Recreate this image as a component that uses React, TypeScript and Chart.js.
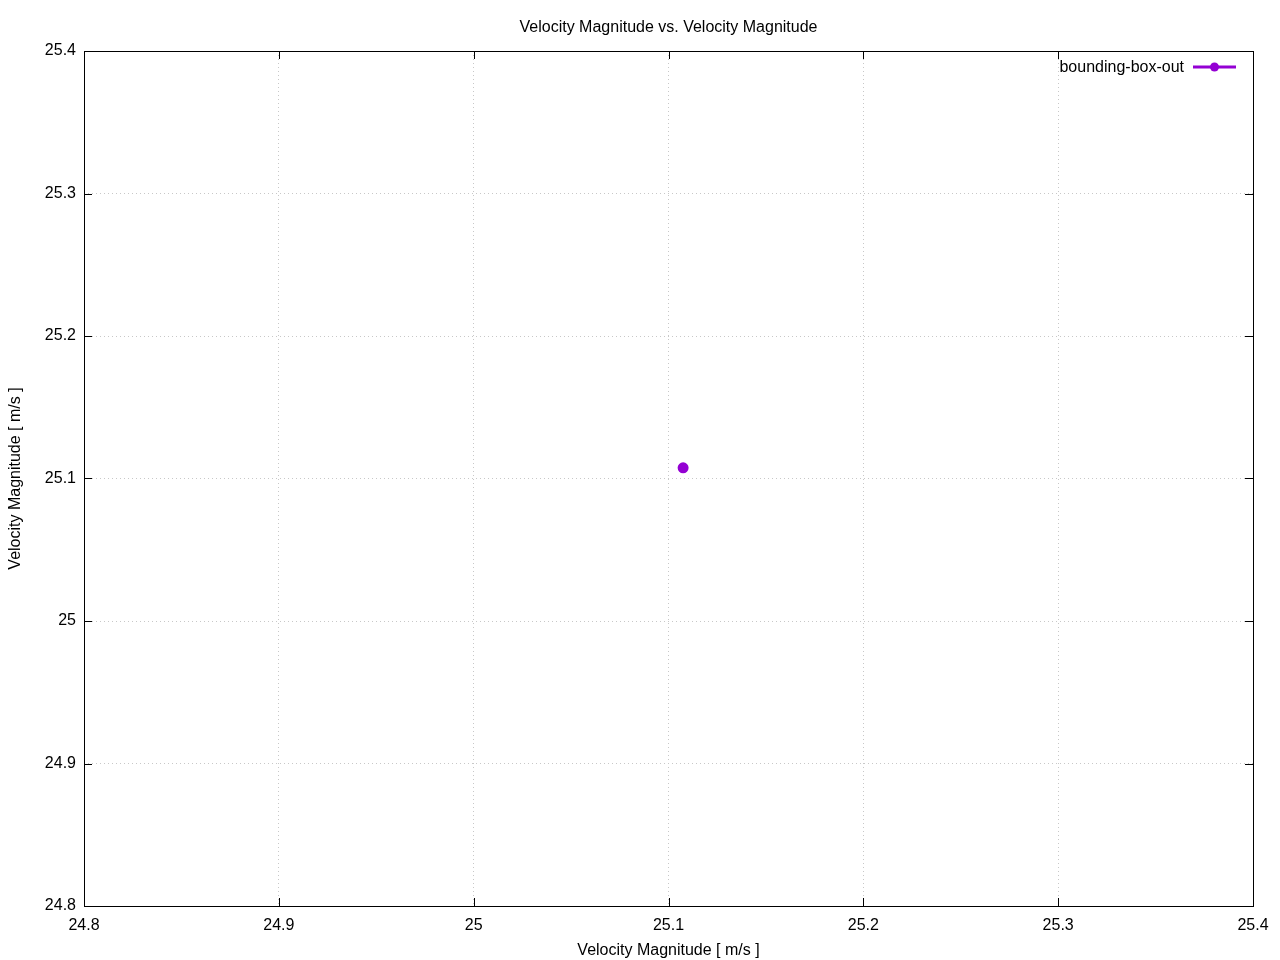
import React, { useEffect, useRef } from "react";
import { Chart, registerables } from "chart.js";

Chart.register(...registerables);

const chartTitle = "Velocity Magnitude vs. Velocity Magnitude";
const xAxisTitle = "Velocity Magnitude [ m/s ]";
const yAxisTitle = "Velocity Magnitude [ m/s ]";
const seriesName = "bounding-box-out";
const xValues = [25.1075];
const yValues = [25.1075];
const axisMin = 24.8;
const axisMax = 25.4;
const axisStep = 0.1;
const seriesColor = "#9400d3";
const FONT = "Arial, 'Liberation Sans', sans-serif";

const gnuplotPlugin = {
  id: "gnuplotDecor",
  afterDraw(chart: any) {
    const { ctx, chartArea } = chart;
    const { left, right, top, bottom } = chartArea;
    ctx.save();
    // frame
    ctx.strokeStyle = "#000";
    ctx.lineWidth = 1;
    ctx.strokeRect(left + 0.5, top + 0.5, right - left, bottom - top);
    // inward ticks on all sides
    const tl = 8;
    const xs = chart.scales.x;
    const ys = chart.scales.y;
    ctx.beginPath();
    xs.ticks.forEach((t: any) => {
      const px = Math.round(xs.getPixelForValue(t.value)) + 0.5;
      ctx.moveTo(px, bottom);
      ctx.lineTo(px, bottom - tl);
      ctx.moveTo(px, top);
      ctx.lineTo(px, top + tl);
    });
    ys.ticks.forEach((t: any) => {
      const py = Math.round(ys.getPixelForValue(t.value)) + 0.5;
      ctx.moveTo(left, py);
      ctx.lineTo(left + tl, py);
      ctx.moveTo(right, py);
      ctx.lineTo(right - tl, py);
    });
    ctx.stroke();
    // title
    ctx.fillStyle = "#000";
    ctx.font = `16px ${FONT}`;
    ctx.textAlign = "center";
    ctx.textBaseline = "middle";
    const cx = (left + right) / 2;
    ctx.fillText(chartTitle, cx, 28);
    // x axis title
    ctx.fillText(xAxisTitle, cx, 951);
    // y axis title
    ctx.save();
    ctx.translate(16, (top + bottom) / 2);
    ctx.rotate(-Math.PI / 2);
    ctx.fillText(yAxisTitle, 0, 0);
    ctx.restore();
    // legend
    const ly = 67;
    ctx.textAlign = "right";
    ctx.fillText(seriesName, 1184, ly + 1);
    ctx.strokeStyle = seriesColor;
    ctx.lineWidth = 3;
    ctx.beginPath();
    ctx.moveTo(1193, ly);
    ctx.lineTo(1236, ly);
    ctx.stroke();
    ctx.fillStyle = seriesColor;
    ctx.beginPath();
    ctx.arc(1214.5, ly, 4.5, 0, Math.PI * 2);
    ctx.fill();
    ctx.restore();
  },
};

export default function App() {
  const ref = useRef<HTMLCanvasElement | null>(null);
  useEffect(() => {
    document.body.style.margin = "0";
    const canvas = ref.current!;
    const chart = new Chart(canvas, {
      type: "scatter",
      data: {
        datasets: [
          {
            label: seriesName,
            data: xValues.map((x, i) => ({ x, y: yValues[i] })),
            showLine: true,
            borderColor: seriesColor,
            backgroundColor: seriesColor,
            borderWidth: 2,
            pointRadius: 4.5,
            pointHoverRadius: 4.5,
          },
        ],
      },
      options: {
        animation: false,
        responsive: false,
        devicePixelRatio: 1,
        layout: { padding: { top: 51, right: 27, left: 0, bottom: 0 } },
        plugins: {
          legend: { display: false },
          title: { display: false },
          tooltip: { enabled: false },
        },
        scales: {
          x: {
            type: "linear",
            min: axisMin,
            max: axisMax,
            ticks: {
              stepSize: axisStep,
              padding: 10,
              color: "#000",
              font: { size: 16, family: FONT },
              callback: (v: any) => String(Math.round(Number(v) * 10) / 10),
            },
            grid: { color: "#c8c8c8", drawTicks: false, lineWidth: 1 },
            border: { display: false, dash: [1, 3] },
            afterFit: (s: any) => {
              s.height = 54;
            },
          },
          y: {
            type: "linear",
            min: axisMin,
            max: axisMax,
            ticks: {
              stepSize: axisStep,
              padding: 8,
              color: "#000",
              font: { size: 16, family: FONT },
              callback: (v: any) => String(Math.round(Number(v) * 10) / 10),
            },
            grid: { color: "#c8c8c8", drawTicks: false, lineWidth: 1 },
            border: { display: false, dash: [1, 3] },
            afterFit: (s: any) => {
              s.width = 84;
            },
          },
        },
      },
      plugins: [gnuplotPlugin],
    });
    return () => chart.destroy();
  }, []);
  return (
    <div style={{ position: "absolute", left: 0, top: 0, width: 1280, height: 960, background: "#fff" }}>
      <canvas ref={ref} width={1280} height={960} style={{ width: 1280, height: 960 }} />
    </div>
  );
}
